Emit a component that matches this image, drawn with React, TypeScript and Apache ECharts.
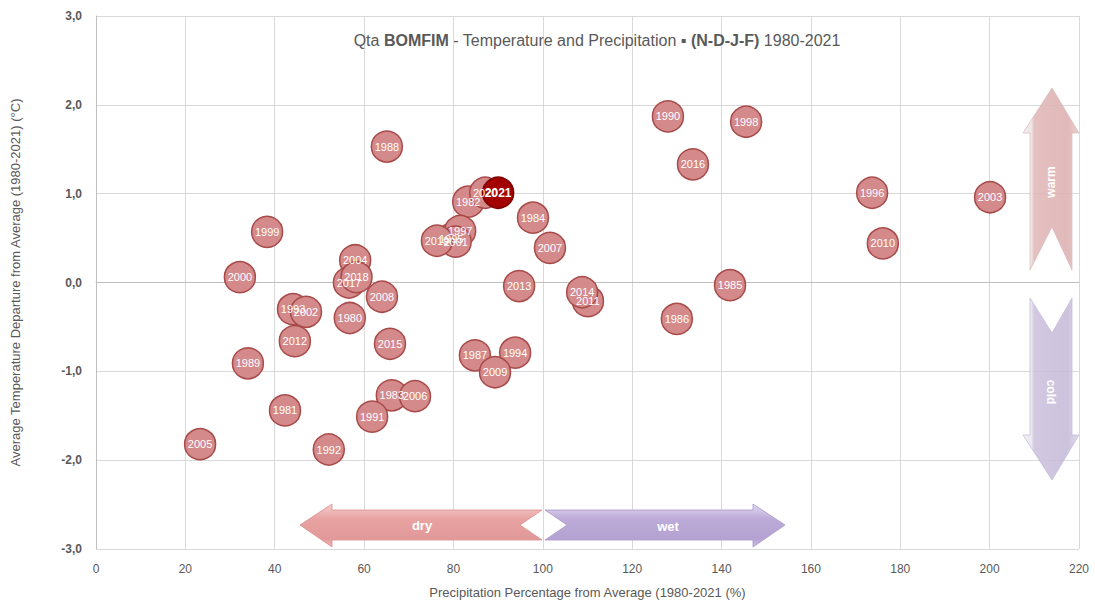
import React, { useEffect, useRef } from "react";
import * as echarts from "echarts";

const years = [
  "1980", "1981", "1982", "1983", "1984", "1985", "1986", "1987", "1988", "1989",
  "1990", "1991", "1992", "1993", "1994", "1995", "1996", "1997", "1998", "1999",
  "2000", "2001", "2002", "2003", "2004", "2005", "2006", "2007", "2008", "2009",
  "2010", "2011", "2012", "2013", "2014", "2015", "2016", "2017", "2018", "2019",
  "2020", "2021",
];
const precip = [
  56.8, 42.3, 83.3, 66.2, 97.8, 141.9, 130.0, 84.8, 65.1, 34.0,
  128.0, 61.8, 52.1, 44.1, 93.8, 79.5, 173.7, 81.5, 145.5, 38.3,
  32.2, 80.5, 47.0, 200.1, 58.0, 23.3, 71.4, 101.6, 64.0, 89.3,
  176.1, 110.1, 44.5, 94.7, 108.8, 65.8, 133.6, 56.6, 58.3, 76.3,
  87.1, 90.0,
];
const temp = [
  -0.4, -1.44, 0.91, -1.27, 0.73, -0.03, -0.41, -0.82, 1.53, -0.91,
  1.87, -1.51, -1.88, -0.3, -0.79, 0.49, 1.01, 0.58, 1.81, 0.57,
  0.06, 0.46, -0.33, 0.96, 0.25, -1.82, -1.28, 0.39, -0.16, -1.01,
  0.44, -0.21, -0.66, -0.04, -0.11, -0.69, 1.33, 0.0, 0.06, 0.47,
  1.01, 1.01,
];
const yTicks = [-3, -2, -1, 0, 1, 2, 3];

const FONT = "'Liberation Sans Narrow', 'Liberation Sans', Arial, sans-serif";
const GREY = "#595959";

export default function App() {
  const ref = useRef<HTMLDivElement>(null);
  useEffect(() => {
    document.body.style.margin = "0";
    const chart = echarts.init(ref.current!, null, { renderer: "svg" });
    const data = years.map((y, i) => {
      const last = y === "2021";
      return {
        name: y,
        value: [precip[i], temp[i]],
        itemStyle: last
          ? { color: "#a30000", borderColor: "#7a0000", borderWidth: 1.5 }
          : undefined,
        label: last ? { fontWeight: "bold", fontSize: 12 } : undefined,
      };
    });
    const lin = (stops: [number, string][], horizontal = false) => ({
      type: "linear",
      x: 0,
      y: 0,
      x2: horizontal ? 1 : 0,
      y2: horizontal ? 0 : 1,
      colorStops: stops.map(([o, c]) => ({ offset: o, color: c })),
    });
    chart.setOption({
      animation: false,
      backgroundColor: "#ffffff",
      textStyle: { fontFamily: FONT },
      title: {
        left: 592,
        top: 27,
        textAlign: "center",
        text: "{n|Qta }{b|BOMFIM}{n| - Temperature and Precipitation ▪ }{b|(N-D-J-F)}{n| 1980-2021}",
        textStyle: {
          fontWeight: "normal",
          rich: {
            n: { fontSize: 16, color: GREY, fontWeight: "normal", fontFamily: FONT },
            b: { fontSize: 16, color: GREY, fontWeight: "bold", fontFamily: FONT },
          },
        },
      },
      grid: { left: 96, right: 16, top: 16, bottom: 51 },
      xAxis: {
        type: "value",
        min: 0,
        max: 220,
        interval: 20,
        name: "Precipitation Percentage from Average (1980-2021 (%)",
        nameLocation: "middle",
        nameGap: 37,
        nameTextStyle: { color: GREY, fontSize: 13, fontFamily: FONT },
        axisLine: { show: true, lineStyle: { color: "#bfbfbf" } },
        axisTick: { show: false },
        axisLabel: { color: GREY, fontSize: 12, margin: 14, fontFamily: FONT },
        splitLine: { show: true, lineStyle: { color: "#d9d9d9" } },
      },
      yAxis: {
        type: "value",
        min: yTicks[0],
        max: yTicks[yTicks.length - 1],
        interval: 1,
        name: "Average Temperature Departure from Average (1980-2021) (°C)",
        nameLocation: "middle",
        nameGap: 74,
        nameTextStyle: { color: GREY, fontSize: 13, fontFamily: FONT },
        axisLine: { show: true, lineStyle: { color: "#bfbfbf" } },
        axisTick: { show: false },
        axisLabel: {
          color: GREY,
          fontSize: 12,
          fontWeight: "bold",
          margin: 14,
          fontFamily: FONT,
          formatter: (v: number) => v.toFixed(1).replace(".", ","),
        },
        splitLine: { show: true, lineStyle: { color: "#d9d9d9" } },
      },
      series: [
        {
          type: "scatter",
          symbolSize: 31,
          data,
          itemStyle: {
            color: "#d48a8a",
            borderColor: "#a84a4a",
            borderWidth: 1.5,
            opacity: 1,
          },
          label: {
            show: true,
            position: "inside",
            formatter: (p: any) => p.name,
            color: "#ffffff",
            fontSize: 11,
            fontFamily: FONT,
          },
        },
      ],
      graphic: [
        {
          type: "polygon",
          z: 10,
          shape: {
            points: [
              [300, 525], [332, 504], [332, 510], [542, 510], [520, 525],
              [542, 540], [332, 540], [332, 547],
            ],
          },
          style: {
            fill: lin([[0, "#f6cccc"], [0.35, "#e8a2a2"], [0.8, "#e29898"], [1, "#f0b8b8"]]),
            stroke: "#d88e8e",
            lineWidth: 0.8,
          },
        },
        {
          type: "text",
          z: 11,
          x: 422,
          y: 525,
          style: {
            text: "dry",
            fill: "#ffffff",
            font: "bold 13px 'Liberation Sans', Arial, sans-serif",
            align: "center",
            verticalAlign: "middle",
          },
        },
        {
          type: "polygon",
          z: 10,
          shape: {
            points: [
              [545, 510], [753, 510], [753, 504], [785, 525], [753, 547],
              [753, 540], [545, 540], [567, 525],
            ],
          },
          style: {
            fill: lin([[0, "#e2d8f2"], [0.35, "#bcaad8"], [0.8, "#b4a2d2"], [1, "#cbbde4"]]),
            stroke: "#a898c8",
            lineWidth: 0.8,
          },
        },
        {
          type: "text",
          z: 11,
          x: 668,
          y: 526,
          style: {
            text: "wet",
            fill: "#ffffff",
            font: "bold 13px 'Liberation Sans', Arial, sans-serif",
            align: "center",
            verticalAlign: "middle",
          },
        },
        {
          type: "polygon",
          z: 10,
          shape: {
            points: [
              [1052, 88], [1079, 133], [1072, 133], [1072, 270], [1052, 227],
              [1030, 270], [1030, 133], [1023, 133],
            ],
          },
          style: {
            fill: lin([[0, "#eeeeee"], [0.15, "#ebe3e3"], [0.2, "#e2b9b9"], [0.8, "#ddb2b2"], [1, "#e8cccc"]], true),
            stroke: "#dcb8b8",
            lineWidth: 0.8,
            opacity: 0.9,
          },
        },
        {
          type: "text",
          z: 11,
          x: 1051,
          y: 182,
          rotation: Math.PI / 2,
          style: {
            text: "warm",
            fill: "#ffffff",
            font: "bold 12px 'Liberation Sans', Arial, sans-serif",
            align: "center",
            verticalAlign: "middle",
          },
        },
        {
          type: "polygon",
          z: 10,
          shape: {
            points: [
              [1030, 298], [1052, 333], [1072, 298], [1072, 435], [1079, 435],
              [1052, 480], [1023, 435], [1030, 435],
            ],
          },
          style: {
            fill: lin([[0, "#eeeeee"], [0.15, "#e9e6ee"], [0.2, "#cdc2dd"], [0.8, "#c8bcda"], [1, "#ddd6e8"]], true),
            stroke: "#c3b8d6",
            lineWidth: 0.8,
            opacity: 0.9,
          },
        },
        {
          type: "text",
          z: 11,
          x: 1051,
          y: 392,
          rotation: -Math.PI / 2,
          style: {
            text: "cold",
            fill: "#ffffff",
            font: "bold 12px 'Liberation Sans', Arial, sans-serif",
            align: "center",
            verticalAlign: "middle",
          },
        },
      ],
    });
    return () => chart.dispose();
  }, []);
  return (
    <div
      ref={ref}
      style={{ position: "absolute", left: 0, top: 0, width: 1095, height: 604 }}
    />
  );
}
